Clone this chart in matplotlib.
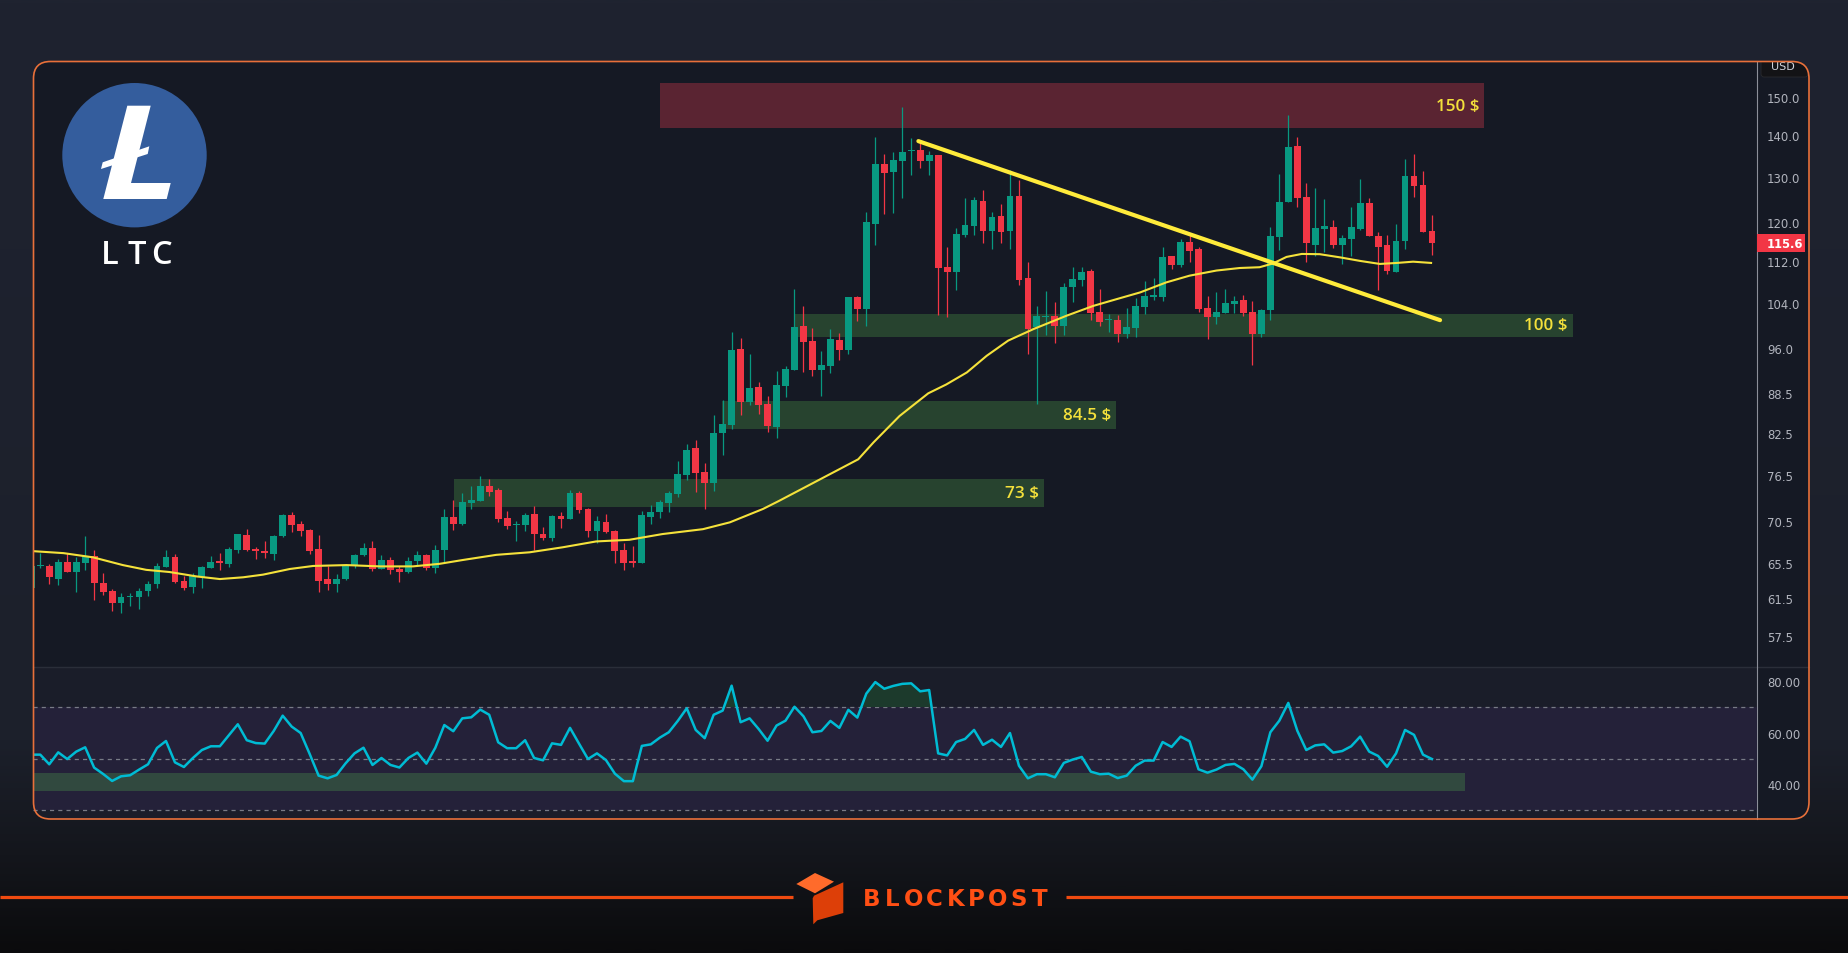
import numpy as np
import matplotlib
matplotlib.use("Agg")
import matplotlib.pyplot as plt
from matplotlib.patches import FancyBboxPatch, Rectangle, Polygon, Circle
from matplotlib.ticker import NullLocator, NullFormatter
from matplotlib.colors import LinearSegmentedColormap

# ---------------- data ----------------
opens = [62.6, 65.05, 65.1, 63.6, 65.6, 64.4, 65.5, 66.3, 63.2, 62.3,
         61.0, 61.55, 61.6, 62.3, 63.0, 65.0, 66.1, 63.4, 62.75, 63.85,
         64.9, 65.6, 65.35, 66.95, 68.8, 67.1, 66.85, 66.5, 68.7, 71.3,
         70.15, 69.4, 67.1, 63.6, 63.05, 63.55, 65.1, 66.4, 67.2, 64.75,
         65.8, 64.75, 64.35, 65.7, 66.4, 64.85, 66.95, 71.0, 70.15, 72.85,
         73.1, 75.05, 74.5, 70.9, 70.05, 70.05, 71.4, 68.9, 68.45, 71.15,
         70.8, 74.1, 72.05, 69.3, 70.4, 69.25, 66.95, 65.7, 65.5, 71.05,
         71.6, 72.85, 74.05, 76.5, 80.3, 76.9, 75.5, 82.4, 83.65, 95.75,
         87.15, 89.5, 86.85, 83.35, 89.65, 92.25, 99.75, 97.1, 92.25, 92.9,
         97.3, 95.6, 105.0, 102.8, 119.6, 133.05, 131.2, 133.8, 136.15, 136.45,
         133.8, 135.2, 110.8, 109.8, 117.3, 119.2, 124.6, 118.1, 121.3, 118.1,
         125.7, 108.65, 99.55, 101.3, 101.55, 99.75, 106.9, 108.25, 110.0, 102.25,
         100.85, 100.8, 98.35, 99.4, 103.2, 105.1, 105.1, 113.0, 111.15, 115.85,
         114.4, 103.0, 101.35, 102.1, 103.8, 104.45, 102.25, 98.35, 102.6, 116.85,
         124.4, 137.4, 125.5, 115.2, 118.55, 118.95, 115.2, 116.45, 118.55, 124.15,
         117.05, 115.2, 109.8, 116.05, 130.25, 128.2, 118.1]
highs = [65.3, 66.6, 65.3, 65.9, 66.6, 66.1, 68.7, 67.0, 64.3, 62.5,
         62.0, 62.05, 62.6, 63.4, 65.4, 67.0, 66.5, 63.9, 64.3, 65.1,
         66.3, 66.6, 67.3, 68.95, 69.5, 67.3, 68.05, 68.8, 71.4, 71.65,
         70.5, 69.5, 68.8, 65.05, 64.2, 65.35, 66.5, 67.8, 68.05, 66.4,
         66.15, 65.1, 66.15, 66.85, 66.5, 67.6, 72.1, 73.2, 74.1, 75.05,
         76.4, 76.0, 74.8, 71.8, 70.5, 71.55, 72.45, 69.75, 71.3, 71.65,
         74.5, 74.4, 72.2, 71.15, 71.4, 69.4, 67.8, 67.45, 71.8, 72.55,
         73.2, 74.4, 78.5, 80.8, 81.5, 78.2, 85.2, 87.45, 98.7, 97.65,
         94.9, 90.3, 88.1, 92.1, 92.9, 106.5, 103.35, 99.4, 95.4, 99.2,
         98.5, 105.05, 105.2, 122.2, 139.5, 135.45, 135.95, 147.3, 139.4, 138.9,
         136.2, 135.2, 114.8, 118.75, 125.25, 125.5, 127.05, 122.2, 123.9, 131.65,
         129.3, 111.8, 103.35, 106.15, 104.1, 107.7, 110.8, 110.8, 110.4, 106.55,
         101.9, 101.7, 103.0, 104.85, 108.05, 108.65, 114.8, 113.0, 116.45, 117.5,
         114.8, 105.2, 105.95, 106.55, 105.2, 105.4, 104.3, 102.8, 118.95, 130.7,
         145.2, 139.6, 128.65, 127.5, 125.05, 120.45, 117.3, 123.25, 129.55, 125.25,
         117.9, 117.3, 119.6, 134.25, 135.45, 131.45, 121.5]
lows = [62.4, 64.9, 63.0, 62.9, 64.4, 62.2, 64.6, 61.3, 61.8, 60.1,
        59.9, 60.6, 60.3, 61.75, 62.6, 65.0, 63.1, 62.35, 62.05, 62.6,
        64.9, 64.6, 65.0, 66.65, 66.85, 65.95, 66.0, 65.85, 68.5, 69.15,
        68.7, 66.5, 62.2, 62.4, 62.1, 63.5, 64.9, 66.25, 64.55, 64.75,
        64.2, 63.3, 64.3, 65.2, 64.65, 64.3, 65.5, 69.45, 70.05, 72.1,
        73.1, 73.75, 70.45, 69.55, 68.1, 69.3, 67.0, 68.2, 68.1, 69.7,
        70.8, 71.55, 68.6, 67.85, 69.05, 65.5, 64.65, 65.0, 65.5, 70.2,
        70.95, 71.7, 73.65, 75.9, 74.3, 72.1, 74.4, 79.3, 83.05, 85.15,
        86.65, 85.3, 82.6, 81.75, 87.9, 92.25, 91.9, 91.25, 88.1, 91.75,
        93.9, 94.9, 100.65, 99.75, 115.2, 121.75, 121.95, 125.25, 130.5, 132.1,
        130.5, 101.7, 101.35, 106.35, 116.85, 117.3, 115.6, 114.4, 115.6, 114.4,
        107.3, 94.9, 86.85, 98.15, 96.8, 98.15, 104.1, 107.1, 100.8, 99.75,
        98.7, 96.95, 97.65, 97.8, 101.9, 104.45, 104.3, 110.4, 110.8, 111.8,
        102.25, 97.45, 100.1, 102.1, 102.1, 101.55, 93.05, 97.8, 100.8, 114.2,
        124.4, 123.3, 111.8, 113.05, 113.8, 114.6, 111.4, 113.05, 118.35, 117.05,
        106.35, 109.4, 109.8, 114.4, 125.5, 117.9, 113.2]
closes = [65.1, 65.2, 63.8, 65.6, 64.4, 65.6, 66.3, 63.1, 62.2, 61.0,
          61.6, 61.7, 62.3, 63.05, 65.1, 66.1, 63.3, 62.6, 63.9, 65.0,
          65.55, 65.5, 67.1, 68.9, 67.0, 66.8, 66.65, 68.7, 71.3, 70.05,
          69.3, 66.85, 63.4, 63.05, 63.6, 65.2, 66.4, 67.2, 64.75, 65.8,
          64.65, 64.35, 65.7, 66.4, 64.85, 67.0, 71.0, 70.15, 72.95, 73.2,
          75.05, 74.3, 70.8, 69.95, 70.15, 71.3, 68.85, 68.45, 71.15, 70.8,
          74.1, 71.85, 69.3, 70.5, 69.2, 66.9, 65.5, 65.5, 71.3, 71.65,
          72.95, 74.1, 76.7, 80.0, 76.8, 75.5, 82.5, 83.85, 95.6, 87.15,
          89.35, 86.65, 83.5, 89.8, 92.4, 99.55, 96.95, 92.25, 93.05, 97.45,
          95.6, 105.0, 102.8, 120.0, 133.1, 130.95, 134.0, 135.95, 136.25, 133.8,
          135.2, 110.6, 109.8, 117.5, 119.4, 124.8, 118.1, 121.1, 117.9, 125.7,
          108.25, 99.2, 101.55, 101.55, 99.75, 106.9, 108.45, 109.8, 102.1, 100.45,
          100.9, 98.35, 99.55, 103.35, 105.2, 105.2, 112.8, 111.15, 115.85, 114.0,
          102.8, 101.35, 102.25, 103.9, 104.3, 102.1, 98.35, 102.6, 117.05, 124.4,
          137.15, 125.25, 115.6, 118.75, 119.2, 115.2, 116.65, 118.95, 124.15, 117.05,
          114.8, 110.0, 116.05, 130.25, 128.0, 117.9, 115.6]

# moving average (read at points along the yellow curve)
ma_idx = [0, 3.6, 6.9, 10.2, 12.8, 15.4, 18.4, 21.0, 23.6, 25.8, 28.8, 31.4, 35.1,
          38.8, 42.5, 45.5, 48.1, 51.8, 55.5, 59.2, 62.9, 66.6, 70.3, 74.8, 77.8,
          81.5, 83.3, 92.1, 93.8, 96.7, 99.9, 101.9, 104.2, 106.4, 108.8, 111.6,
          115.3, 118.3, 120.9, 123.5, 126.4, 129.0, 132.0, 134.6, 136.8, 138.3,
          139.8, 141.5, 143.5, 145.8, 148.0, 150.2, 152.1, 153.9, 155.9]
ma_val = [66.85, 66.6, 66.1, 65.2, 64.65, 64.4, 63.9, 63.6, 63.8, 64.1, 64.75, 65.1, 65.2,
          65.05, 65.05, 65.35, 65.8, 66.4, 66.7, 67.3, 68.0, 68.2, 68.9, 69.5, 70.35,
          72.05, 73.1, 78.7, 81.1, 85.0, 88.5, 89.9, 91.85, 94.6, 97.2, 99.2,
          101.6, 103.4, 104.65, 105.9, 107.8, 109.1, 110.1, 110.6, 110.75, 111.5,
          112.8, 113.4, 113.35, 112.7, 112.0, 111.4, 111.6, 111.85, 111.6]

rsi = [51.5, 51.5, 47.75, 52.4, 49.8, 52.67, 54.36, 46.46, 44.0, 41.28,
       43.09, 43.48, 45.68, 47.75, 54.1, 56.8, 48.5, 46.7, 50.2, 53.3,
       54.75, 54.75, 59.0, 63.3, 57.1, 56.0, 55.8, 60.7, 66.65, 62.4,
       59.9, 51.8, 43.35, 42.3, 43.6, 48.1, 52.0, 54.2, 47.5, 50.2,
       47.5, 46.5, 50.2, 52.3, 48.0, 54.2, 63.0, 60.6, 65.6, 66.0,
       69.0, 67.0, 56.3, 54.0, 54.0, 57.1, 50.2, 49.3, 55.9, 55.3,
       61.9, 55.8, 49.8, 52.0, 49.4, 44.1, 41.2, 41.2, 54.9, 55.5,
       58.1, 60.2, 64.6, 69.5, 61.1, 57.9, 67.0, 68.6, 78.3, 64.1,
       65.6, 61.5, 56.9, 62.8, 64.7, 70.1, 66.4, 60.2, 60.7, 64.6,
       61.9, 68.9, 65.9, 75.2, 79.7, 77.1, 78.2, 79.0, 79.2, 76.1,
       76.6, 52.0, 51.2, 56.4, 57.6, 61.1, 55.3, 57.3, 54.5, 59.9,
       47.2, 42.3, 43.9, 43.9, 42.7, 48.3, 49.6, 50.6, 44.9, 43.9,
       44.1, 42.4, 43.35, 47.2, 49.2, 49.2, 56.4, 54.5, 58.5, 56.7,
       45.8, 44.5, 45.7, 47.5, 47.9, 45.8, 41.8, 47.0, 60.2, 64.7,
       71.6, 60.8, 53.3, 55.1, 55.5, 52.3, 52.9, 54.75, 58.5, 52.7,
       51.0, 46.8, 52.0, 61.1, 59.2, 51.5, 49.8]

trend_idx = [98.8, 156.9]
trend_val = [138.6, 100.8]

zone_labels = ["150 $", "100 $", "84.5 $", "73 $"]
zone_x0 = [70.0, 85.0, 76.9, 47.1]
zone_x1 = [161.8, 171.7, 120.8, 112.8]
zone_lo = [141.8, 97.9, 83.05, 72.3]
zone_hi = [153.7, 101.9, 87.3, 75.98]

price_ticks = [150.0, 140.0, 130.0, 120.0, 112.0, 104.0, 96.0, 88.5, 82.5,
               76.5, 70.5, 65.5, 61.5, 57.5]
rsi_ticks = [80, 60, 40]
rsi_levels = [70, 50, 30]
rsi_zone = [37.5, 44.4]
rsi_zone_end = 159.7
last_price = 115.6

# ---------------- figure ----------------
W, H = 1848, 954
fig = plt.figure(figsize=(W / 100, H / 100), dpi=100)


def frect(x0, y0, x1, y1):
    return [x0 / W, 1 - y1 / H, (x1 - x0) / W, (y1 - y0) / H]


bg = fig.add_axes([0, 0, 1, 1], zorder=0)
bg.set_xlim(0, W)
bg.set_ylim(H, 0)
bg.axis('off')
cmap = LinearSegmentedColormap.from_list(
    'bgc', [(0.0, '#1f2330'), (0.78, '#1c202b'), (0.9, '#14161c'), (1.0, '#0b0b0d')])
bg.imshow(np.linspace(0, 1, 400)[:, None], cmap=cmap, extent=[0, W, H, 0],
          aspect='auto', zorder=0)

FX0, FY0, FX1, FY1 = 33.5, 62.5, 1809, 820
frame = FancyBboxPatch((FX0, FY0), FX1 - FX0, FY1 - FY0,
                       boxstyle='round,pad=0,rounding_size=17',
                       fc='#151924', ec='none', zorder=1)
bg.add_patch(frame)

AX_L, AX_R, P_T, P_B, R_B = 33, 1757, 62, 668, 820
rsi_bg = Rectangle((AX_L, P_B), AX_R - AX_L, R_B - P_B, fc='#1a1d29', ec='none', zorder=2)
bg.add_patch(rsi_bg)
rsi_bg.set_clip_path(frame)
bg.plot([AX_L, FX1], [P_B, P_B], color='#2a2e39', lw=1.0, zorder=3)
bg.plot([AX_R, AX_R], [FY0, FY1], color='#8c8f99', lw=0.8, zorder=3)

# ---------------- price pane ----------------
XL = (0.19, 192.2)
ax = fig.add_axes(frect(AX_L, P_T, AX_R, P_B), zorder=2)
ax.patch.set_alpha(0)
ax.set_yscale('log')
ax.set_xlim(*XL)
ax.set_ylim(54.39, 159.83)
for s in ax.spines.values():
    s.set_visible(False)

zone_colors = ['#5a2432', '#27432f', '#27432f', '#27432f']
for x0, x1, lo, hi, col, lab in zip(zone_x0, zone_x1, zone_lo, zone_hi, zone_colors, zone_labels):
    ax.add_patch(Rectangle((x0, lo), x1 - x0, hi - lo, fc=col, ec='none', zorder=1))
    ax.annotate(lab, xy=(x1, np.sqrt(lo * hi)), xytext=(-3.6, 0), textcoords='offset points',
                ha='right', va='center', color='#f3e03b', fontsize=12.3,
                fontweight='semibold', family=['Open Sans', 'DejaVu Sans'], zorder=8)

o = np.array(opens); h = np.array(highs); l = np.array(lows); c = np.array(closes)
xi = np.arange(len(o))
cols = np.where(c >= o, '#089981', '#f23645')
ax.vlines(xi, l, h, colors=cols, lw=0.9, zorder=3)
blo = np.minimum(o, c)
bhi = np.maximum(np.maximum(o, c), blo * 1.0022)
ax.bar(xi, bhi - blo, bottom=blo, width=0.76, color=cols, lw=0, zorder=4)

ax.plot(ma_idx, ma_val, color='#f5e23b', lw=1.5, zorder=5, solid_joinstyle='round')
ax.plot(trend_idx, trend_val, color='#ffeb3b', lw=3.0, solid_capstyle='round', zorder=6)

ax.set_yticks(price_ticks)
ax.set_yticklabels([f"{t:.1f}" for t in price_ticks])
ax.yaxis.set_minor_locator(NullLocator())
ax.yaxis.set_minor_formatter(NullFormatter())
ax.yaxis.tick_right()
ax.tick_params(axis='y', length=0, pad=7.2, labelsize=8.4, labelcolor='#b2b5be')
ax.tick_params(axis='x', bottom=False, labelbottom=False)

# ---------------- RSI pane ----------------
ar = fig.add_axes(frect(AX_L, P_B, AX_R, R_B), zorder=2)
ar.patch.set_alpha(0)
ar.set_xlim(*XL)
ar.set_ylim(26.5, 85.55)
for s in ar.spines.values():
    s.set_visible(False)
band = ar.axhspan(rsi_levels[2], rsi_levels[0], color='#242139', lw=0, zorder=0)
band.set_clip_path(frame)
ar.add_patch(Rectangle((XL[0], rsi_zone[0]), rsi_zone_end - XL[0], rsi_zone[1] - rsi_zone[0],
                       fc='#31493f', ec='none', zorder=1))
for lv in rsi_levels:
    ar.axhline(lv, color='#787b86', lw=0.9, ls=(0, (3.3, 3.3)), zorder=2)
r = np.array(rsi)
ar.fill_between(xi, r, rsi_levels[0], where=r > rsi_levels[0], interpolate=True,
                color='#1c3a2c', lw=0, zorder=2)
ar.plot(xi, r, color='#00bcd4', lw=1.8, zorder=4)
ar.set_yticks(rsi_ticks)
ar.set_yticklabels([f"{t:.2f}" for t in rsi_ticks])
ar.yaxis.tick_right()
ar.tick_params(axis='y', length=0, pad=7.2, labelsize=8.4, labelcolor='#b2b5be')
ar.tick_params(axis='x', bottom=False, labelbottom=False)

# ---------------- price tag & USD ----------------
fig.canvas.draw()
y_tag = H - ax.transData.transform((0, last_price))[1]
bg.add_patch(Rectangle((AX_R, y_tag - 9.2), 48, 18.4, fc='#f23645', ec='none', zorder=4))
bg.text(1767, y_tag + 0.5, f"{last_price:.1f}", color='white', fontsize=8.4,
        fontweight='bold', ha='left', va='center', zorder=5)
usd_box = FancyBboxPatch((1761, 56), 47, 22, boxstyle='round,pad=0,rounding_size=3',
                         fc='#131316', ec='#2a2a2e', lw=0.6, zorder=4)
bg.add_patch(usd_box)
usd_box.set_clip_path(frame)
t_usd = bg.text(1783, 69.5, "USD", color='#d1d4dc', fontsize=8.0, ha='center',
                va='baseline', zorder=5)
t_usd.set_clip_path(frame)

# ---------------- logo ----------------
bg.add_patch(Circle((134.5, 156.2), 72.2, fc='#345d9d', ec='none', zorder=4))
bg.add_patch(Polygon([(127.3, 106.7), (150.7, 106.7), (131.0, 184.0), (170.7, 184.0),
                      (166.7, 200.0), (103.3, 200.0)], closed=True, fc='white', ec='none', zorder=5))
bg.add_patch(Polygon([(102.7, 163.3), (149.3, 147.3), (147.7, 155.0), (101.0, 170.0)],
                     closed=True, fc='white', ec='none', zorder=5))
for ch, xx in zip("LTC", [110.0, 136.5, 161.5]):
    bg.text(xx, 264, ch, color='white', fontsize=23.5, fontweight='semibold',
            family=['Open Sans', 'DejaVu Sans'], ha='center', va='baseline', zorder=5)

# ---------------- branding ----------------
ORANGE = '#f04a10'
bg.plot([0, 793], [898, 898], color=ORANGE, lw=2.3, zorder=3, solid_capstyle='butt')
bg.plot([1066, W], [898, 898], color=ORANGE, lw=2.3, zorder=3, solid_capstyle='butt')
bg.add_patch(Polygon([(796.3, 885.0), (815.0, 874.0), (834.0, 882.7), (815.0, 894.3)],
                     closed=True, fc='#ff6b2b', ec='none', zorder=4))
bg.add_patch(Polygon([(814.0, 896.7), (843.3, 883.3), (843.3, 914.0), (817.3, 921.3),
                      (813.3, 925.3), (812.7, 899.3)],
                     closed=True, fc='#dd3f08', ec='none', zorder=4))
for k, ch in enumerate("BLOCKPOST"):
    bg.text(871.5 + 21.0 * k, 906, ch, color='#ff4f14', fontsize=16.5, fontweight='heavy',
            ha='center', va='baseline', zorder=5)

# ---------------- frame edge on top ----------------
top = fig.add_axes([0, 0, 1, 1], zorder=10)
top.set_xlim(0, W)
top.set_ylim(H, 0)
top.axis('off')
top.patch.set_alpha(0)
top.add_patch(FancyBboxPatch((FX0, FY0), FX1 - FX0, FY1 - FY0,
                             boxstyle='round,pad=0,rounding_size=17',
                             fc='none', ec='#e8703a', lw=1.2))

fig.savefig('out.png', dpi=100, facecolor='#1f2330')
